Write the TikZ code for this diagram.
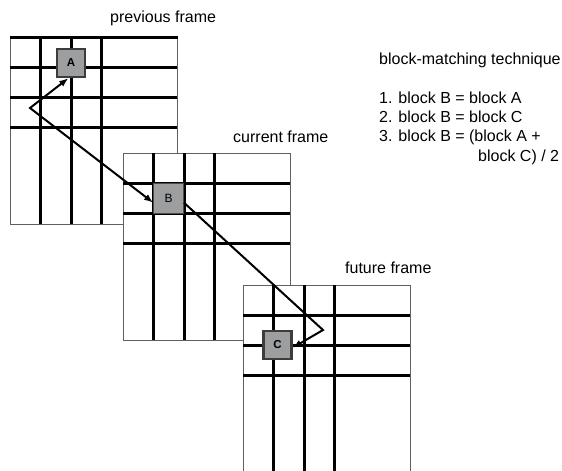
\documentclass[tikz,border=0pt]{standalone}
\usepackage{fontspec}
\setmainfont{Liberation Sans}
\usetikzlibrary{arrows.meta}
\definecolor{blockfill}{HTML}{9C9EA0}
\definecolor{edgegray}{HTML}{3C3C3C}

\begin{document}
\begin{tikzpicture}[x=1pt, y=-1pt, >={Latex[length=9pt,width=7pt]},
  framebox/.style = {draw=gray!75!black, line width=1.2pt, fill=white, minimum width=167pt, minimum height=187pt, inner sep=0pt, anchor=north west},
  gridline/.style = {line width=3pt},
  block/.style = {draw=edgegray, line width=2.5pt, fill=blockfill, minimum size=28pt, inner sep=0pt, font=\fontsize{11.5}{12}\selectfont\bfseries},
  caption/.style = {anchor=base west, inner sep=0pt, font=\fontsize{16}{19}\selectfont},
  link/.style = {line width=2pt}]
\useasboundingbox (0,0) rectangle (562,471);
% the three frames, each one laid over the one before
\foreach \fx/\fy/\nm in {10/37/prev, 123/153/curr, 243/285/futr} {
  \node[framebox] (\nm) at (\fx,\fy) {};
  \foreach \d/\e in {30.5/30, 61/60, 91.5/90.5} {
    \draw[gridline] (\fx+\d,\fy) -- (\fx+\d,\fy+187);
    \draw[gridline] (\fx,\fy+\e) -- (\fx+167,\fy+\e);
  }
}
\draw[gridline] (prev.north west) -- (prev.north east);
\node[block] (A) at (71,63) {A};
\node[block, draw=gray!60!black, line width=0.8pt, minimum size=30pt, font=\fontsize{12}{12}\selectfont] (B) at (168.5,198.5) {B};
\node[block] (C) at (277.5,345) {C};
\coordinate (K1) at (30,108);
\coordinate (K2) at (323,330);
\draw[link, <->] (A.-100) -- (K1) -- (B.195);
\draw[link, ->] (B.-15) -- (K2) -- (C.-10);
\node[caption] (prevtext) at (110,23) {previous frame};
\node[caption] (currtext) at (233,142.7) {current frame};
\node[caption] (futrtext) at (345,273.3) {future frame};
\node[caption] (title) at (379,64) {block-matching technique};
\node[caption] (rule1) at (379,103.3) {1. block B = block A};
\node[caption] (rule2) at (379,122.7) {2. block B = block C};
\node[caption] (rule3) at (379,141.7) {3. block B = (block A +};
\node[caption] (rule3b) at (478,161.7) {block C) / 2};
\end{tikzpicture}
\end{document}
